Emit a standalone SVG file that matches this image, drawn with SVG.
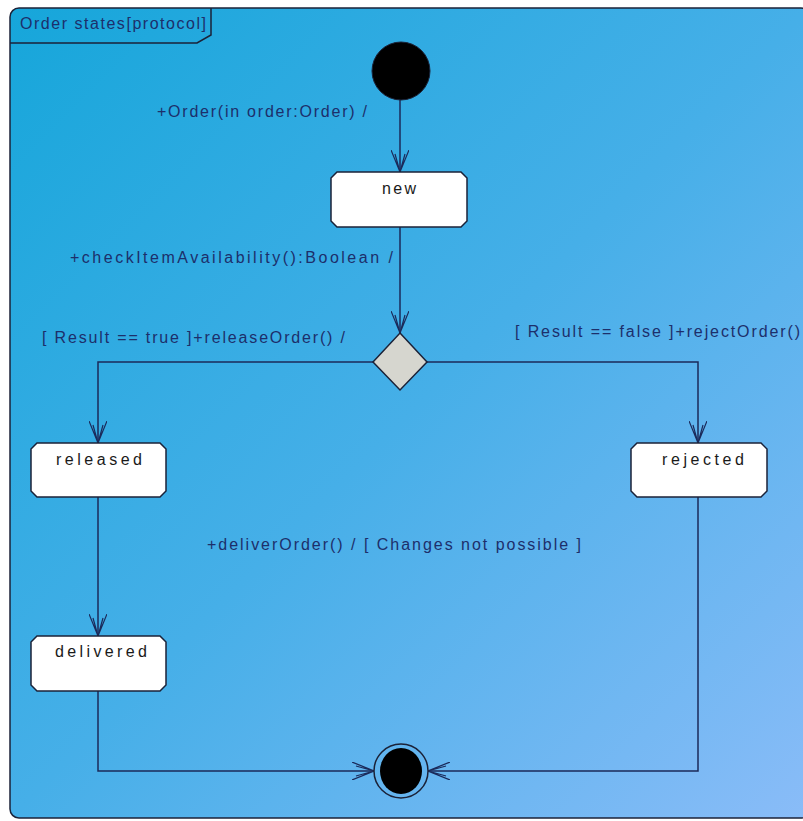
<svg xmlns="http://www.w3.org/2000/svg" width="803" height="821" viewBox="0 0 803 821">
  <defs>
    <linearGradient id="bg" x1="0" y1="0" x2="1" y2="1">
      <stop offset="0" stop-color="#16a6da"/>
      <stop offset="0.5" stop-color="#46afe8"/>
      <stop offset="1" stop-color="#8abcf8"/>
    </linearGradient>
    <marker id="arr" viewBox="0 0 22 18" refX="22" refY="9" markerWidth="22" markerHeight="18" markerUnits="userSpaceOnUse" orient="auto">
      <path d="M0,0 L22,9 L0,18 M4,4 L22,9 L4,14" fill="none" stroke="#1b2a5a" stroke-width="1.2"/>
    </marker>
    <style>
      .lbl { font-family: "Liberation Sans", Arial, sans-serif; font-size: 16px; fill: #1d2f6b; }
      .st { font-family: "Liberation Sans", Arial, sans-serif; font-size: 16px; fill: #1a1a1a; text-anchor: middle; }
      .box { fill: #ffffff; stroke: #1b2238; stroke-width: 1.5; }
      .conn { fill: none; stroke: #1b2a5a; stroke-width: 1.5; marker-end: url(#arr); }
    </style>
  </defs>
  <rect x="0" y="0" width="803" height="821" fill="#ffffff"/>

  <g id="frame">
    <rect x="10" y="8" width="800" height="810" rx="9" fill="url(#bg)" stroke="#1b2238" stroke-width="1.5"/>
    <path d="M10,43 H197 L211,35 V8" fill="none" stroke="#1b2238" stroke-width="1.5"/>
    <text class="lbl" x="20" y="29" font-size="15" textLength="186" lengthAdjust="spacing">Order states[protocol]</text>
  </g>

  <g id="connectors">
    <path class="conn" d="M400,100 V172"/>
    <path class="conn" d="M400,227 V333"/>
    <path class="conn" d="M373,362 H98 V443"/>
    <path class="conn" d="M427,362 H698 V443"/>
    <path class="conn" d="M98,497 V636"/>
    <path class="conn" d="M98,691 V771 H374"/>
    <path class="conn" d="M698,497 V771 H428"/>
    <text class="lbl" x="157" y="117" textLength="210" lengthAdjust="spacing">+Order(in order:Order) /</text>
    <text class="lbl" x="70" y="263" textLength="323" lengthAdjust="spacing">+checkItemAvailability():Boolean  /</text>
    <text class="lbl" x="42" y="343" textLength="303" lengthAdjust="spacing">[ Result == true ]+releaseOrder() /</text>
    <text class="lbl" x="515" y="337" textLength="285" lengthAdjust="spacing">[ Result == false ]+rejectOrder()</text>
    <text class="lbl" x="207" y="550" textLength="374" lengthAdjust="spacing">+deliverOrder() / [ Changes not possible ]</text>
  </g>

  <g id="initial">
    <circle cx="401" cy="71" r="29" fill="#000000" stroke="#1b2238" stroke-width="1"/>
  </g>

  <g id="new">
    <path class="box" d="M337,172 H461 L467,178 V221 L461,227 H337 L331,221 V178 Z"/>
    <text class="st" x="399" y="194" textLength="34" lengthAdjust="spacing">new</text>
  </g>

  <g id="decision">
    <polygon points="400,333 427,362 400,390 373,362" fill="#d6d6cf" stroke="#1b2238" stroke-width="1.5"/>
  </g>

  <g id="released">
    <path class="box" d="M37,443 H160 L166,449 V491 L160,497 H37 L31,491 V449 Z"/>
    <text class="st" x="99" y="465" textLength="86" lengthAdjust="spacing">released</text>
  </g>

  <g id="rejected">
    <path class="box" d="M637,443 H761 L767,449 V491 L761,497 H637 L631,491 V449 Z"/>
    <text class="st" x="703" y="465" textLength="82" lengthAdjust="spacing">rejected</text>
  </g>

  <g id="delivered">
    <path class="box" d="M37,636 H160 L166,642 V685 L160,691 H37 L31,685 V642 Z"/>
    <text class="st" x="101" y="657" textLength="92" lengthAdjust="spacing">delivered</text>
  </g>

  <g id="final">
    <circle cx="401" cy="771" r="27" fill="none" stroke="#1b2238" stroke-width="1.5"/>
    <ellipse cx="401" cy="771" rx="21" ry="23" fill="#000000"/>
  </g>
</svg>
